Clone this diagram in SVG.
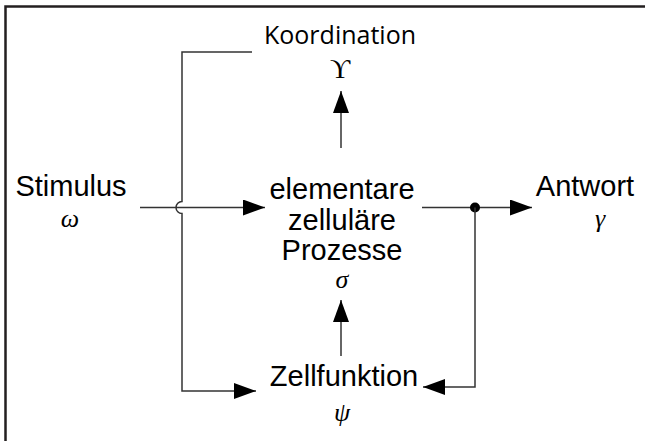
<svg xmlns="http://www.w3.org/2000/svg" width="645" height="441" viewBox="0 0 645 441">
<defs>
<marker id="ah" viewBox="0 0 22 16" refX="22" refY="8" markerWidth="22" markerHeight="16" markerUnits="userSpaceOnUse" orient="auto">
<path d="M0,0 L22,8 L0,16 Z" fill="#000"/>
</marker>
<style>
.lbl{font-family:"Liberation Sans",Arial,sans-serif;font-size:29px;fill:#000;text-anchor:middle}
.ko{font-family:"Open Sans","Noto Sans",sans-serif;font-size:25px;fill:#000;text-anchor:middle}
.sym{font-family:"Liberation Serif","DejaVu Serif",serif;font-style:italic;font-size:26px;fill:#000;text-anchor:middle}
.ln{fill:none;stroke:#333;stroke-width:1.5}
</style>
</defs>
<rect width="645" height="441" fill="#fff"/>
<path d="M5.5,441 V6.5 H645" fill="none" stroke="#231f20" stroke-width="2.5"/>
<g id="connectors">
<path class="ln" d="M252,52 H182 V201.5 A6,6 0 0 0 182,213.5 V391 H256" marker-end="url(#ah)"/>
<path class="ln" d="M140,207.5 H265" marker-end="url(#ah)"/>
<path class="ln" d="M341,148 V91" marker-end="url(#ah)"/>
<path class="ln" d="M422,207.5 H532" marker-end="url(#ah)"/>
<circle cx="475" cy="207.5" r="5" fill="#000"/>
<path class="ln" d="M475,207.5 V387 H423" marker-end="url(#ah)"/>
<path class="ln" d="M341,356 V300" marker-end="url(#ah)"/>
</g>
<g id="koordination">
<text class="ko" x="340" y="44">Koordination</text>
<text x="340" y="78" font-family="Liberation Serif,DejaVu Serif,serif" font-size="28" text-anchor="middle">ϒ</text>
</g>
<g id="stimulus">
<text class="lbl" x="71" y="196" font-size="27">Stimulus</text>
<text class="sym" x="70" y="227">ω</text>
</g>
<g id="prozesse">
<text class="lbl" x="342" y="199">elementare</text>
<text class="lbl" x="342" y="230">zelluläre</text>
<text class="lbl" x="342" y="260">Prozesse</text>
<text class="sym" x="342" y="288">σ</text>
</g>
<g id="antwort">
<text class="lbl" x="585" y="196">Antwort</text>
<text class="sym" x="600" y="227">γ</text>
</g>
<g id="zellfunktion">
<text class="lbl" x="344" y="386">Zellfunktion</text>
<text class="sym" x="342" y="421">ψ</text>
</g>
</svg>
